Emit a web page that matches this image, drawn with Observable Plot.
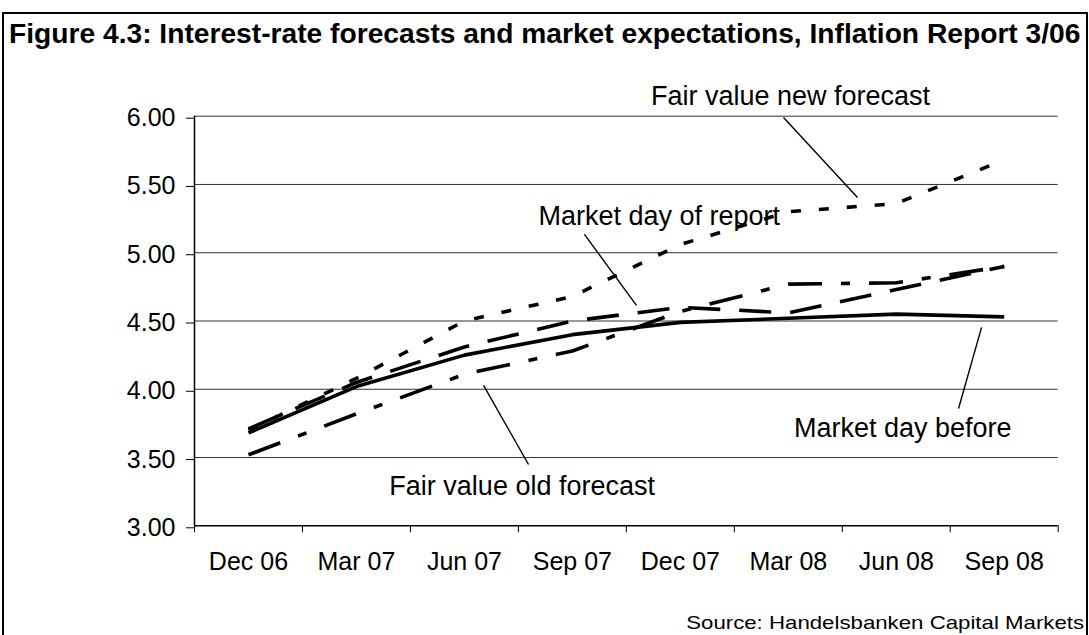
<!DOCTYPE html>
<html>
<head>
<meta charset="utf-8">
<script src="https://cdn.jsdelivr.net/npm/d3@7"></script>
<script src="https://cdn.jsdelivr.net/npm/@observablehq/plot@0.6"></script>
<style>
  body { margin: 0; background: #fff; }
  #wrap { position: relative; width: 1089px; height: 635px; overflow: hidden; background: #fff;
          font-family: "Liberation Sans", Arial, sans-serif; color: #000; }
  #chart { position: absolute; left: 0; top: 0; }
  #frame { position: absolute; left: 2px; top: 12px; width: 1086px; height: 640px;
           border: 2px solid #000; box-sizing: border-box; }
  #title { position: absolute; left: 9px; top: 19px; font-weight: bold; font-size: 28.2px;
           line-height: 28px; white-space: nowrap; }
  #caption { position: absolute; right: 5px; top: 613px; font-size: 19px; line-height: 19px;
             white-space: nowrap; transform: scaleX(1.17); transform-origin: right center; }
</style>
</head>
<body>
<div id="wrap">
  <div id="chart"></div>
  <div id="frame"></div>
  <div id="title">Figure 4.3: Interest-rate forecasts and market expectations, Inflation Report 3/06</div>
  <div id="caption">Source: Handelsbanken Capital Markets</div>
</div>
<script>
// ---- data ----
const categories = ["Dec 06", "Mar 07", "Jun 07", "Sep 07", "Dec 07", "Mar 08", "Jun 08", "Sep 08"];
const marketDayBefore   = [3.68, 4.02, 4.25, 4.40, 4.49, 4.52, 4.55, 4.53];
const marketDayOfReport = [3.71, 4.05, 4.31, 4.50, 4.60, 4.56, 4.73, 4.90];
const fairValueNew      = [3.70, 4.08, 4.50, 4.68, 5.06, 5.30, 5.36, 5.68];
const fairValueOld      = [3.52, 3.82, 4.11, 4.28, 4.57, 4.77, 4.78, 4.90];
const yTicks = [3.0, 3.5, 4.0, 4.5, 5.0, 5.5, 6.0];

// annotation labels (in data units: category index, rate)
const labelText = ["Fair value new forecast", "Market day of report", "Fair value old forecast", "Market day before"];
const labelX  = [5.02, 3.805, 2.535, 6.06];
const labelY  = [6.147, 5.27, 3.29, 3.716];
const leaderX1 = [4.956, 3.112, 2.177, 6.79];
const leaderY1 = [5.991, 5.134, 4.028, 4.453];
const leaderX2 = [5.641, 3.594, 2.594, 6.577];
const leaderY2 = [5.405, 4.614, 3.449, 3.859];

// ---- series table ----
const series = [
  {name: "Market day before", values: marketDayBefore, dash: null},
  {name: "Market day of report", values: marketDayOfReport, dash: "32,19"},
  {name: "Fair value new forecast", values: fairValueNew, dash: "10,18"},
  {name: "Fair value old forecast", values: fairValueOld, dash: "34,19,9,19"}
];
const idx = d3.range(categories.length);
const boundaries = d3.range(categories.length + 1).map(i => i - 0.5);
const lab = d3.range(labelText.length);

const lineMarks = series.map(s =>
  Plot.line(idx, {
    x: i => i, y: i => s.values[i],
    stroke: "#000", strokeWidth: 3.6,
    strokeDasharray: s.dash, strokeLinecap: "butt", strokeLinejoin: "round"
  })
);

const chart = Plot.plot({
  width: 1089,
  height: 635,
  marginLeft: 194,
  marginRight: 31.3,
  marginTop: 115.7,
  marginBottom: 109.7,
  style: {fontFamily: "'Liberation Sans', Arial, sans-serif", fontSize: "25px", color: "#000", background: "transparent", overflow: "visible"},
  x: {domain: [-0.5, 7.5], axis: null},
  y: {domain: [3, 6], axis: null},
  marks: [
    Plot.ruleY(yTicks.slice(1), {x1: -0.5, x2: 7.5, stroke: "#333", strokeWidth: 1}),
    Plot.axisY(yTicks, {tickFormat: d => d.toFixed(2), tickSize: 8, tickPadding: 11, fontSize: 25, stroke: "#000", dy: 2}),
    Plot.axisX(boundaries, {tickSize: 7, tickFormat: () => "", stroke: "#000"}),
    Plot.axisX(idx, {tickSize: 0, tickPadding: 26, tickFormat: i => categories[i], fontSize: 25}),
    Plot.ruleX([-0.5], {y1: 3, y2: 6, stroke: "#000", strokeWidth: 1.5}),
    Plot.ruleY([3], {x1: -0.5, x2: 7.5, stroke: "#000", strokeWidth: 1.5}),
    ...lineMarks,
    Plot.link(lab, {x1: i => leaderX1[i], y1: i => leaderY1[i], x2: i => leaderX2[i], y2: i => leaderY2[i], stroke: "#000", strokeWidth: 1.4}),
    Plot.text(lab, {x: i => labelX[i], y: i => labelY[i], text: i => labelText[i], fontSize: 27, lineAnchor: "middle", fill: "#000"})
  ]
});
document.getElementById("chart").appendChild(chart);
</script>
</body>
</html>
